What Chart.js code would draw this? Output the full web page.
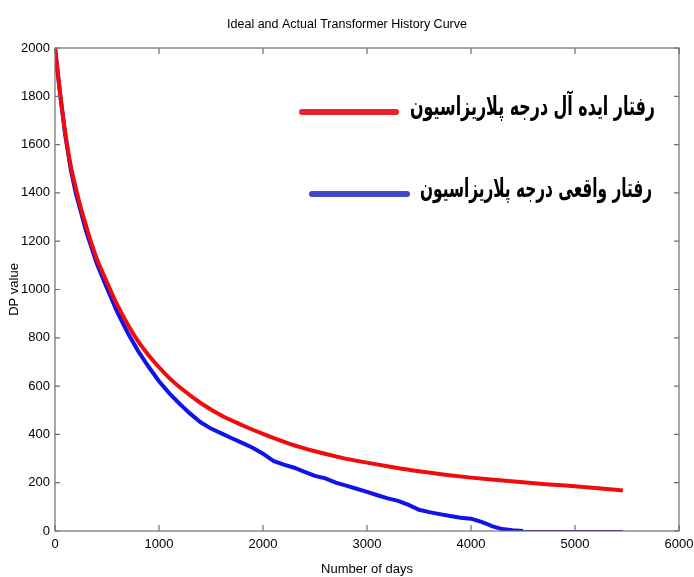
<!DOCTYPE html>
<html>
<head>
<meta charset="utf-8">
<title>Ideal and Actual Transformer History Curve</title>
<script src="https://cdn.jsdelivr.net/npm/chart.js@4.4.1/dist/chart.umd.min.js"></script>
<style>
    html, body { margin: 0; padding: 0; background: #fff; }
    #wrap { width: 694px; height: 577px; }
</style>
</head>
<body>
<div id="wrap"><canvas id="dpChart" width="694" height="577"></canvas></div>
<script>
// values
const idealDays = [0, 50, 100, 150, 200, 250, 300, 350, 400, 500, 600, 700, 800, 900, 1000, 1100, 1200, 1400, 1600, 1800,
    2000, 2250, 2500, 2750, 3000, 3250, 3500, 3750, 4000, 4250, 4500, 4750, 5000, 5250, 5460];
const idealDP = [2000, 1810, 1645, 1515, 1420, 1335, 1262, 1192, 1130, 1030, 935, 855, 785, 728, 678, 633, 595, 530, 478, 438,
    402, 362, 330, 304, 283, 264, 247, 233, 221, 211, 202, 193, 185, 176, 168];

const actualDays = [0, 50, 100, 150, 200, 300, 400, 500, 600, 700, 800, 900, 1000, 1100, 1200, 1300, 1400, 1500, 1600, 1700,
    1800, 1900, 2000, 2100, 2200, 2300, 2400, 2500, 2600, 2700, 2800, 2900, 3000, 3100, 3200, 3300, 3400, 3500, 3600, 3700,
    3800, 3900, 4000, 4100, 4150, 4200, 4300, 4400, 4500, 5460];
const actualDP = [2000, 1805, 1635, 1500, 1398, 1240, 1110, 1005, 905, 820, 745, 680, 620, 570, 526, 486, 450, 424, 404, 384,
    365, 345, 320, 290, 275, 262, 245, 228, 218, 200, 188, 175, 162, 148, 135, 125, 108, 88, 78, 70,
    62, 55, 51, 38, 30, 20, 8, 3, 0, 0];

const xTicks = [0, 1000, 2000, 3000, 4000, 5000, 6000];
const yTicks = [0, 200, 400, 600, 800, 1000, 1200, 1400, 1600, 1800, 2000];

const seriesLabels = ['رفتار ایده آل درجه پلاریزاسیون', 'رفتار واقعی درجه پلاریزاسیون'];

const axisFont = "'Liberation Sans', Arial, sans-serif";

function toPoints(xs, ys) {
    return xs.map((x, i) => ({ x: x, y: ys[i] }));
}

// box around the plot with inward ticks on all four sides (MATLAB style)
const boxPlugin = {
    id: 'box',
    afterDraw(chart) {
        const { ctx, chartArea: a, scales } = chart;
        ctx.save();
        ctx.strokeStyle = '#6e6e6e';
        ctx.lineWidth = 1.2;
        ctx.strokeRect(a.left, a.top, a.right - a.left, a.bottom - a.top);
        ctx.beginPath();
        scales.x.ticks.forEach(t => {
            const px = scales.x.getPixelForValue(t.value);
            ctx.moveTo(px, a.bottom); ctx.lineTo(px, a.bottom - 6);
            ctx.moveTo(px, a.top); ctx.lineTo(px, a.top + 6);
        });
        scales.y.ticks.forEach(t => {
            const py = scales.y.getPixelForValue(t.value);
            ctx.moveTo(a.left, py); ctx.lineTo(a.left + 5, py);
            ctx.moveTo(a.right, py); ctx.lineTo(a.right - 5, py);
        });
        ctx.stroke();
        ctx.restore();
    }
};

// big persian legend drawn inside the plot
const legendPlugin = {
    id: 'bigLegend',
    afterDatasetsDraw(chart) {
        const { ctx } = chart;
        const swatchColors = ['#e8212b', '#4048c6'];
        const rows = [
            { y: 112, lineFrom: 302, lineTo: 396, textRight: 655, maxW: 245 },
            { y: 194, lineFrom: 312, lineTo: 407, textRight: 652, maxW: 232 }
        ];
        ctx.save();
        chart.data.datasets.forEach((ds, i) => {
            const r = rows[i];
            ctx.strokeStyle = swatchColors[i];
            ctx.lineWidth = 6;
            ctx.lineCap = 'round';
            ctx.beginPath();
            ctx.moveTo(r.lineFrom, r.y);
            ctx.lineTo(r.lineTo, r.y);
            ctx.stroke();

            ctx.font = "bold 26px 'DejaVu Sans Condensed', 'DejaVu Sans', sans-serif";
            ctx.fillStyle = '#000';
            ctx.textAlign = 'right';
            ctx.textBaseline = 'middle';
            ctx.direction = 'rtl';
            const w = ctx.measureText(ds.label).width;
            const sx = Math.min(1, r.maxW / w);
            ctx.save();
            ctx.translate(r.textRight, r.y - 4);
            ctx.scale(sx, 1);
            ctx.fillText(ds.label, 0, 0);
            ctx.restore();
        });
        ctx.restore();
    }
};

const ctx = document.getElementById('dpChart').getContext('2d');
new Chart(ctx, {
    type: 'line',
    data: {
        datasets: [{
            label: seriesLabels[0],
            data: toPoints(idealDays, idealDP),
            borderColor: 'rgb(240, 12, 12)',
            borderWidth: 4,
            pointRadius: 0,
            cubicInterpolationMode: 'monotone',
            fill: false
        }, {
            label: seriesLabels[1],
            data: toPoints(actualDays, actualDP),
            borderColor: 'rgb(18, 18, 235)',
            borderWidth: 4,
            pointRadius: 0,
            tension: 0,
            fill: false,
            segment: {
                borderWidth: c => c.p0.parsed.x >= 4500 ? 2 : 4
            }
        }]
    },
    options: {
        responsive: false,
        animation: false,
        devicePixelRatio: 1,
        layout: { padding: { top: 0, right: 0, bottom: 0, left: 0 } },
        plugins: {
            legend: { display: false },
            tooltip: { enabled: false },
            title: {
                display: true,
                text: 'Ideal and Actual Transformer History Curve',
                color: '#000',
                font: { family: axisFont, size: 12.5, weight: 'normal' },
                padding: { top: 17, bottom: 16 }
            }
        },
        scales: {
            x: {
                type: 'linear',
                min: 0,
                max: 6000,
                afterBuildTicks: s => { s.ticks = xTicks.map(v => ({ value: v })); },
                afterFit: s => { s.height = 46; s.paddingRight = 15; s.paddingLeft = 0; },
                grid: { display: false, drawTicks: false },
                border: { display: false },
                ticks: {
                    color: '#000',
                    padding: 6,
                    maxRotation: 0,
                    callback: v => String(v),
                    font: { family: axisFont, size: 13 }
                },
                title: {
                    display: true,
                    text: 'Number of days',
                    color: '#000',
                    font: { family: axisFont, size: 13 },
                    padding: { top: 2, bottom: 0 }
                }
            },
            y: {
                min: 0,
                max: 2000,
                afterBuildTicks: s => { s.ticks = yTicks.map(v => ({ value: v })); },
                afterFit: s => { s.width = 55; },
                grid: { display: false, drawTicks: false },
                border: { display: false },
                ticks: {
                    color: '#000',
                    padding: 5,
                    callback: v => String(v),
                    font: { family: axisFont, size: 13 }
                },
                title: {
                    display: true,
                    text: 'DP value',
                    color: '#000',
                    font: { family: axisFont, size: 13 },
                    padding: { top: 7, bottom: 0 }
                }
            }
        }
    },
    plugins: [boxPlugin, legendPlugin]
});
</script>
</body>
</html>
